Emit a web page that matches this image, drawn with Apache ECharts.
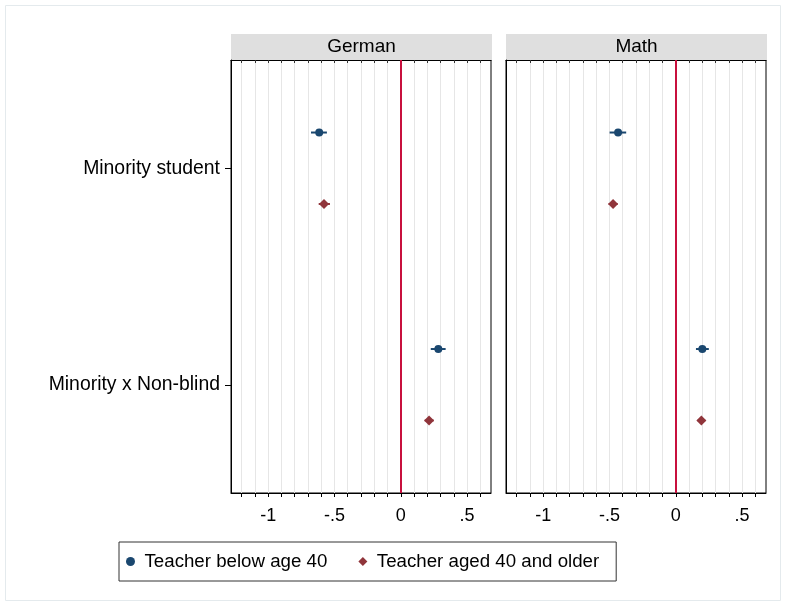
<!DOCTYPE html>
<html>
<head>
<meta charset="utf-8">
<script src="https://cdn.jsdelivr.net/npm/echarts@6/dist/echarts.min.js"></script>
<style>html,body{margin:0;padding:0;background:#fff;}#c{width:786px;height:606px;}</style>
</head>
<body>
<div id="c"></div>
<script>
const categories = ['Minority student', 'Minority x Non-blind'];
const panels = ['German', 'Math'];
const seriesNames = ['Teacher below age 40', 'Teacher aged 40 and older'];

const germanBelow40   = [-0.615, 0.283];
const germanBelow40Lo = [-0.677, 0.226];
const germanBelow40Hi = [-0.557, 0.338];
const germanOver40    = [-0.579, 0.213];
const germanOver40Lo  = [-0.619, 0.180];
const germanOver40Hi  = [-0.534, 0.248];

const mathBelow40   = [-0.435, 0.200];
const mathBelow40Lo = [-0.499, 0.152];
const mathBelow40Hi = [-0.374, 0.249];
const mathOver40    = [-0.473, 0.193];
const mathOver40Lo  = [-0.507, 0.165];
const mathOver40Hi  = [-0.438, 0.222];

const xTickValues = [-1.2, -1.1, -1.0, -0.9, -0.8, -0.7, -0.6, -0.5, -0.4, -0.3, -0.2, -0.1, 0, 0.1, 0.2, 0.3, 0.4, 0.5, 0.6];
const xLabelValues = [-1, -0.5, 0, 0.5];
const xLabelTexts = ['-1', '-.5', '0', '.5'];

const FONT = '"Liberation Sans", Arial, sans-serif';
const colors = ['#1a476f', '#90353b'];
const symbols = ['circle', 'diamond'];
const symbolSizes = [8, 10];
const offsets = [-0.165, 0.165];

const panelData = [
  [[germanBelow40, germanBelow40Lo, germanBelow40Hi], [germanOver40, germanOver40Lo, germanOver40Hi]],
  [[mathBelow40, mathBelow40Lo, mathBelow40Hi], [mathOver40, mathOver40Lo, mathOver40Hi]]
];

const gridLefts = [231, 506];
const gridW = 260;
const gridTop = 60;
const gridH = 433;

const grids = [], xAxes = [], yAxes = [], scatterSeries = [], ciSeries = [], graphics = [];

function labelFor(v) {
  for (let i = 0; i < xLabelValues.length; i++) {
    if (Math.abs(v - xLabelValues[i]) < 1e-6) return xLabelTexts[i];
  }
  return '';
}

panels.forEach((p, pi) => {
  grids.push({left: gridLefts[pi], top: gridTop, width: gridW, height: gridH,
    show: true, borderColor: '#000', borderWidth: 1, backgroundColor: '#fff'});
  xAxes.push({
    type: 'value', gridIndex: pi, min: -1.28, max: 0.68, position: 'bottom',
    axisLine: {show: true, onZero: false, lineStyle: {color: '#000', width: 1}},
    axisTick: {show: true, length: 4, inside: false, customValues: xTickValues, lineStyle: {color: '#000'}},
    axisLabel: {show: true, customValues: xLabelValues, formatter: labelFor, fontFamily: FONT, fontSize: 18, color: '#000', margin: 14},
    splitLine: {show: true, lineStyle: {color: '#e6e6e6', width: 1}}
  });
  xAxes.push({
    type: 'value', gridIndex: pi, min: -1.28, max: 0.68, position: 'top',
    axisLine: {show: true, onZero: false, lineStyle: {color: '#000', width: 1}},
    axisTick: {show: true, length: 3, inside: true, customValues: xTickValues, lineStyle: {color: '#333'}},
    axisLabel: {show: false},
    splitLine: {show: false}
  });
  yAxes.push({
    type: 'value', gridIndex: pi, min: 0.5, max: 2.5, inverse: true,
    axisLine: {show: true, onZero: false, lineStyle: {color: '#000'}},
    axisTick: {show: pi === 0, length: 6, inside: false, customValues: [1, 2], lineStyle: {color: '#000'}},
    axisLabel: {show: pi === 0, customValues: [1, 2], formatter: v => categories[Math.round(v) - 1] || '',
      fontFamily: FONT, fontSize: 19.4, color: '#000', margin: 11},
    splitLine: {show: false}
  });

  panelData[pi].forEach((grp, gi) => {
    const [vals, los, his] = grp;
    scatterSeries.push({
      name: seriesNames[gi], type: 'scatter', xAxisIndex: pi * 2, yAxisIndex: pi,
      symbol: symbols[gi], symbolSize: symbolSizes[gi], z: 5,
      itemStyle: {color: colors[gi], opacity: 1},
      data: vals.map((v, ci) => [v, ci + 1 + offsets[gi]]),
      markLine: gi === 0 ? {
        silent: true, symbol: 'none', label: {show: false},
        lineStyle: {color: '#c8103e', width: 2, type: 'solid'},
        data: [{xAxis: 0}], z: 3
      } : undefined
    });
    ciSeries.push({
      name: seriesNames[gi], type: 'custom', xAxisIndex: pi * 2, yAxisIndex: pi, z: 4,
      itemStyle: {color: colors[gi]},
      data: vals.map((v, ci) => [los[ci], his[ci], ci + 1 + offsets[gi]]),
      renderItem: function (params, api) {
        const a = api.coord([api.value(0), api.value(2)]);
        const b = api.coord([api.value(1), api.value(2)]);
        return {type: 'line', shape: {x1: a[0], y1: a[1], x2: b[0], y2: b[1]},
          style: {stroke: colors[gi], lineWidth: 2}};
      }
    });
  });

  graphics.push({
    type: 'group', left: gridLefts[pi], top: 34,
    children: [
      {type: 'rect', shape: {x: 0, y: 0, width: gridW + 1, height: 26}, style: {fill: '#dfdfdf'}},
      {type: 'text', x: (gridW + 1) / 2, y: 13, style: {text: p, font: '19px ' + FONT, fill: '#000', align: 'center', verticalAlign: 'middle'}}
    ]
  });
});

graphics.unshift({type: 'rect', shape: {x: 5.5, y: 5.5, width: 775, height: 595},
  style: {fill: 'none', stroke: '#e4eaed', lineWidth: 1}, z: -10});

const chart = echarts.init(document.getElementById('c'), null, {renderer: 'canvas'});
chart.setOption({
  animation: false,
  backgroundColor: '#fff',
  textStyle: {fontFamily: FONT},
  grid: grids,
  xAxis: xAxes,
  yAxis: yAxes,
  legend: {
    left: 119, top: 542,
    data: [{name: seriesNames[0], icon: 'circle'}, {name: seriesNames[1], icon: 'path://M5,0L10,5L5,10L0,5Z'}],
    itemWidth: 18, itemHeight: 9, itemGap: 31,
    symbolKeepAspect: true,
    padding: [10, 17, 10, 7],
    borderColor: '#333', borderWidth: 1,
    textStyle: {fontFamily: FONT, fontSize: 18.7, color: '#000'}
  },
  graphic: graphics,
  series: scatterSeries.concat(ciSeries)
});
</script>
</body>
</html>
